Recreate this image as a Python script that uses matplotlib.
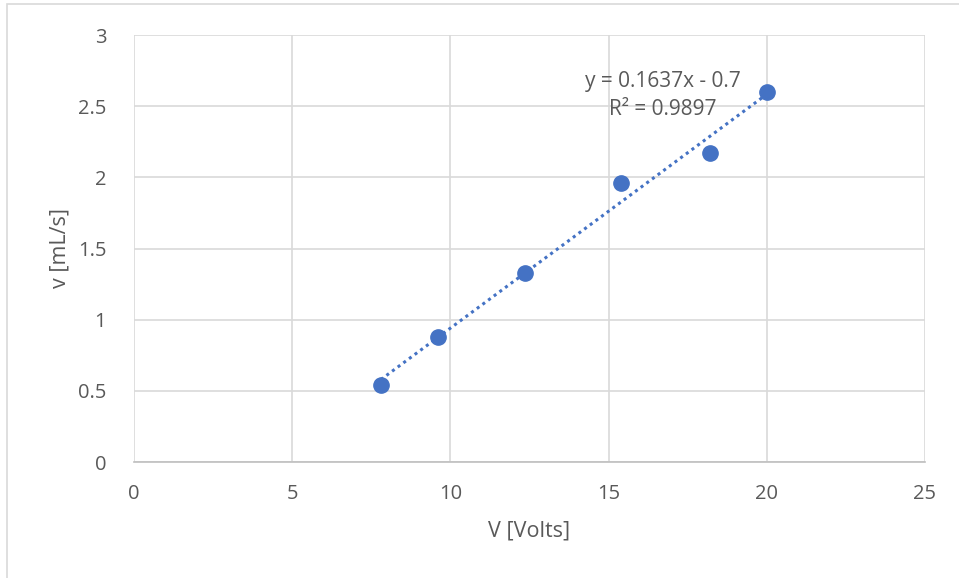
import numpy as np
import matplotlib.pyplot as plt
from matplotlib.patches import Rectangle

# data
volts = [7.8, 9.6, 12.35, 15.4, 18.2, 20.0]
flow = [0.54, 0.88, 1.33, 1.96, 2.17, 2.60]
x_ticks = [0, 5, 10, 15, 20, 25]
y_ticks = [0, 0.5, 1, 1.5, 2, 2.5, 3]
eq_text = 'y = 0.1637x - 0.7\nR² = 0.9897'

plt.rcParams['font.family'] = ['Open Sans', 'DejaVu Sans']
txt = '#595959'
blue = '#4472C4'

fig = plt.figure(figsize=(9.59, 5.78), dpi=100)
ax = fig.add_axes([134/959, 1-462/578, (925-134)/959, (462-35)/578])

# linear trend line
m, b = np.polyfit(volts, flow, 1)
xs = np.array([min(volts), max(volts)])
ax.plot(xs, m*xs + b, linestyle=(0, (1, 1.3)), color=blue, linewidth=2.2, zorder=3)
ax.plot(volts, flow, 'o', color=blue, markersize=11, zorder=4)

ax.set_xlim(0, 25)
ax.set_ylim(0, 3)
ax.set_xticks(x_ticks)
ax.set_yticks(y_ticks)
ax.set_yticklabels(['0', '0.5', '1', '1.5', '2', '2.5', '3'])
ax.grid(True, color='#d9d9d9', linewidth=1.2)
ax.set_axisbelow(True)
for s in ['top', 'right', 'left']:
    ax.spines[s].set_visible(False)
ax.spines['bottom'].set_color('#bfbfbf')
ax.spines['bottom'].set_linewidth(1.2)
ax.tick_params(length=0, colors=txt, labelsize=14.5)
ax.tick_params(axis='x', pad=16)
ax.tick_params(axis='y', pad=20)

ax.set_xlabel('V [Volts]', color=txt, fontsize=15.5, labelpad=12)
ax.set_ylabel('v [mL/s]', color=txt, fontsize=15.5, labelpad=5)

ax.text(16.7, 2.575, eq_text, color=txt, fontsize=15, ha='center', va='center',
        linespacing=1.4)

# chart area border
fig.patches.append(Rectangle((7/959, -0.1), 1.2, 1.1 - 4/578, transform=fig.transFigure,
                             fill=False, edgecolor='#d9d9d9', linewidth=1.2))

fig.savefig('out.png', dpi=100)
